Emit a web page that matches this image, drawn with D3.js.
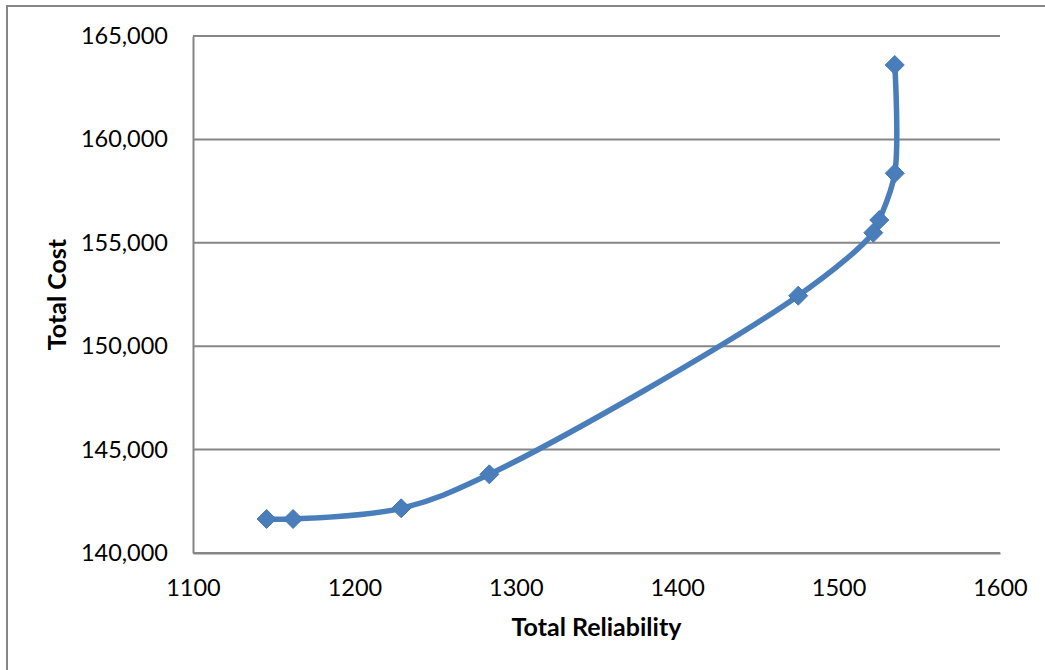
<!DOCTYPE html>
<html>
<head>
<meta charset="utf-8">
<script src="https://cdn.jsdelivr.net/npm/d3@7"></script>
<style>
  html, body { margin: 0; padding: 0; background: #fff; }
  svg { display: block; }
  text { font-family: Lato, "Open Sans", sans-serif; fill: #000; }
</style>
</head>
<body>
<svg id="chart" width="1045" height="670"></svg>
<script>
// Reliability / cost trade-off points
const reliability = [1145.6, 1162, 1229, 1283.6, 1475, 1521.5, 1525.2, 1534.8, 1534.8];
const totalCost   = [141644, 141644, 142161, 143805, 152442, 155488, 156103, 158361, 163598];

const xTicks = [1100, 1200, 1300, 1400, 1500, 1600];
const yTicks = [140000, 145000, 150000, 155000, 160000, 165000];
const xTitle = "Total Reliability";
const yTitle = "Total Cost";

const W = 1045, H = 670;
const plot = { left: 193, right: 1000, top: 36, bottom: 553 };
const gridColor = "#868686";
const seriesColor = "#4a7ebb";

const svg = d3.select("#chart");

// outer frame (runs off the right and bottom edges)
svg.append("rect")
  .attr("x", 7).attr("y", 6)
  .attr("width", W + 10).attr("height", H + 10)
  .attr("fill", "none")
  .attr("stroke", gridColor)
  .attr("stroke-width", 2);

const x = d3.scaleLinear().domain([1100, 1600]).range([plot.left, plot.right]);
const y = d3.scaleLinear().domain([140000, 165000]).range([plot.bottom, plot.top]);

// horizontal gridlines
svg.append("g")
  .selectAll("line")
  .data(yTicks)
  .join("line")
  .attr("x1", plot.left).attr("x2", plot.right)
  .attr("y1", d => y(d)).attr("y2", d => y(d))
  .attr("stroke", gridColor)
  .attr("stroke-width", 2);

// y axis
const yAxis = svg.append("g")
  .attr("transform", `translate(${plot.left},0)`)
  .call(d3.axisLeft(y).tickValues(yTicks).tickSize(0).tickPadding(25)
    .tickFormat(d3.format(",")));
yAxis.select(".domain").attr("stroke", gridColor).attr("stroke-width", 2);
yAxis.selectAll("text")
  .attr("font-family", "Lato, sans-serif")
  .attr("font-size", 23.5)
  .attr("fill", "#000");

// x axis
const xAxis = svg.append("g")
  .attr("transform", `translate(0,${plot.bottom})`)
  .call(d3.axisBottom(x).tickValues(xTicks).tickSize(0).tickPadding(26)
    .tickFormat(d3.format("d")));
xAxis.select(".domain").attr("stroke", gridColor).attr("stroke-width", 2);
xAxis.selectAll("text")
  .attr("font-family", "Lato, sans-serif")
  .attr("font-size", 23.5)
  .attr("fill", "#000");

// axis titles
svg.append("text")
  .attr("x", (plot.left + plot.right) / 2)
  .attr("y", 636)
  .attr("text-anchor", "middle")
  .attr("font-size", 25)
  .attr("font-weight", "bold")
  .text(xTitle);

svg.append("text")
  .attr("transform", `translate(66,${(plot.top + plot.bottom) / 2}) rotate(-90)`)
  .attr("text-anchor", "middle")
  .attr("font-size", 25)
  .attr("font-weight", "bold")
  .text(yTitle);

// smoothed series line
const pts = reliability.map((r, i) => [r, totalCost[i]]);
const line = d3.line()
  .x(d => x(d[0]))
  .y(d => y(d[1]))
  .curve(d3.curveCatmullRom.alpha(0.5));

svg.append("path")
  .datum(pts)
  .attr("d", line)
  .attr("fill", "none")
  .attr("stroke", seriesColor)
  .attr("stroke-width", 5.5)
  .attr("stroke-linejoin", "round")
  .attr("stroke-linecap", "round");

// diamond markers
const r = 9.5;
svg.append("g")
  .selectAll("path")
  .data(pts)
  .join("path")
  .attr("transform", d => `translate(${x(d[0])},${y(d[1])})`)
  .attr("d", `M0,${-r}L${r},0L0,${r}L${-r},0Z`)
  .attr("fill", seriesColor)
  .attr("stroke", "#4577b3")
  .attr("stroke-width", 1);
</script>
</body>
</html>
